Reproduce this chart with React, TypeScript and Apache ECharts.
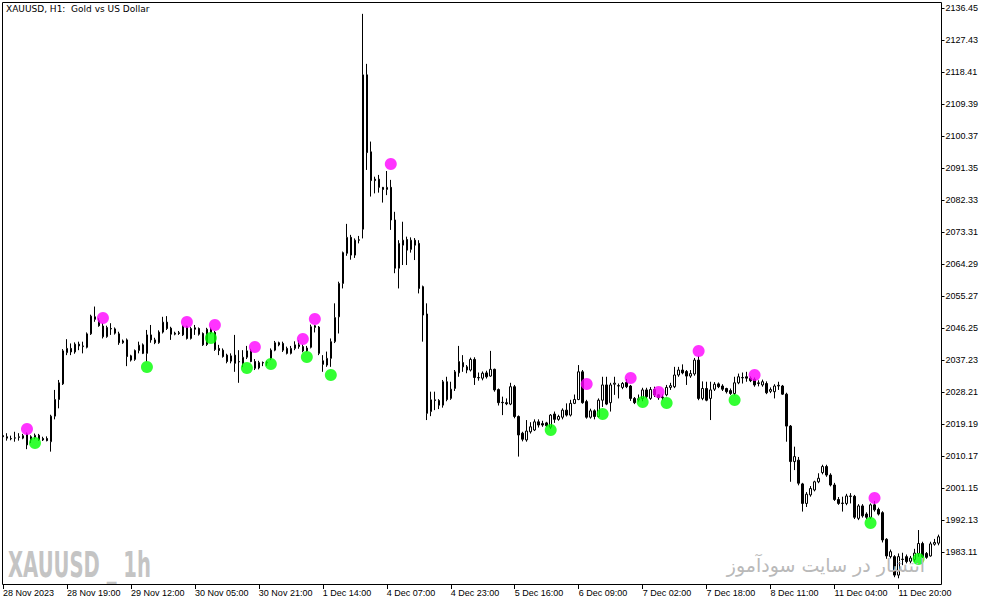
import { useEffect, useRef } from "react";
import * as echarts from "echarts";

// bar index of each time label, and its text
const xTickBars = [0, 16, 32, 48, 64, 80, 96, 112, 128, 144, 160, 176, 192, 208, 224];
const xTickLabels = [
  "28 Nov 2023", "28 Nov 19:00", "29 Nov 12:00", "30 Nov 05:00", "30 Nov 21:00",
  "1 Dec 14:00", "4 Dec 07:00", "4 Dec 23:00", "5 Dec 16:00", "6 Dec 09:00",
  "7 Dec 02:00", "7 Dec 18:00", "8 Dec 11:00", "11 Dec 04:00", "11 Dec 20:00",
];
const yTicks = [
  2136.45, 2127.43, 2118.41, 2109.39, 2100.37, 2091.35, 2082.33, 2073.31, 2064.29,
  2055.27, 2046.25, 2037.23, 2028.21, 2019.19, 2010.17, 2001.15, 1992.13, 1983.11,
];
const priceMin = 1974.09;
const priceMax = 2138.0;

// [open, close, low, high] per H1 bar
const ohlc: number[][] = [
  [2015.9, 2015.6, 2015.0, 2017.0], [2015.6, 2015.2, 2014.5, 2016.6], [2015.1, 2015.0, 2014.6, 2015.9],
  [2015.2, 2015.3, 2014.2, 2017.0], [2015.4, 2015.6, 2014.5, 2016.6], [2015.2, 2015.9, 2014.9, 2016.4],
  [2016.4, 2013.3, 2012.1, 2016.8], [2014.7, 2015.6, 2013.8, 2016.0], [2015.4, 2016.0, 2014.9, 2016.5],
  [2016.0, 2014.7, 2014.4, 2016.4], [2015.1, 2014.7, 2014.4, 2015.6], [2015.1, 2014.5, 2014.3, 2015.7],
  [2014.2, 2021.4, 2011.4, 2021.8], [2021.4, 2026.1, 2020.5, 2028.8], [2026.1, 2030.8, 2023.6, 2031.6],
  [2030.5, 2039.8, 2030.2, 2040.3], [2039.3, 2040.5, 2038.6, 2043.1], [2040.5, 2039.5, 2038.6, 2041.9],
  [2039.5, 2041.7, 2039.0, 2042.2], [2041.7, 2041.2, 2040.0, 2042.4], [2041.0, 2041.2, 2039.1, 2042.4],
  [2040.8, 2044.6, 2040.5, 2045.0], [2044.6, 2049.6, 2044.3, 2050.0], [2049.4, 2048.7, 2048.0, 2052.3],
  [2048.3, 2046.9, 2046.6, 2049.0], [2046.8, 2043.8, 2043.3, 2047.6], [2043.8, 2046.4, 2043.5, 2046.9],
  [2046.1, 2046.0, 2044.3, 2047.6], [2046.0, 2044.8, 2044.4, 2046.4], [2044.6, 2042.1, 2041.5, 2045.2],
  [2042.1, 2042.6, 2041.8, 2043.0], [2042.9, 2038.2, 2035.5, 2043.3], [2038.4, 2037.2, 2036.8, 2038.7],
  [2037.4, 2039.9, 2037.0, 2040.2], [2039.9, 2041.4, 2039.1, 2042.4], [2041.5, 2039.1, 2038.9, 2041.9],
  [2039.1, 2044.3, 2036.8, 2045.7], [2044.3, 2042.9, 2042.1, 2047.1], [2042.9, 2042.1, 2041.7, 2043.5],
  [2042.1, 2045.1, 2041.8, 2045.6], [2045.1, 2047.9, 2044.7, 2049.4], [2047.9, 2046.1, 2045.7, 2049.6],
  [2046.2, 2044.5, 2042.9, 2046.6], [2044.5, 2044.8, 2044.2, 2045.2], [2044.9, 2044.7, 2044.3, 2045.4],
  [2044.3, 2046.8, 2044.0, 2047.0], [2046.6, 2043.3, 2043.0, 2046.9], [2043.3, 2046.1, 2043.0, 2046.5],
  [2046.3, 2045.9, 2044.3, 2047.1], [2046.1, 2044.5, 2044.1, 2046.4], [2044.7, 2041.5, 2041.2, 2045.0],
  [2041.6, 2045.9, 2041.2, 2046.3], [2045.9, 2044.9, 2044.5, 2046.4], [2045.0, 2040.2, 2039.8, 2045.4],
  [2040.5, 2039.9, 2038.6, 2041.5], [2040.0, 2038.2, 2037.9, 2040.5], [2038.6, 2036.8, 2036.3, 2039.0],
  [2036.9, 2038.4, 2036.3, 2039.1], [2038.6, 2036.3, 2033.9, 2044.3], [2036.8, 2036.7, 2030.8, 2040.0],
  [2036.3, 2038.0, 2035.2, 2040.0], [2038.0, 2039.8, 2037.5, 2041.2], [2039.8, 2036.8, 2036.6, 2040.4],
  [2036.8, 2034.9, 2034.4, 2037.5], [2035.0, 2036.5, 2034.6, 2037.0], [2036.5, 2036.4, 2035.5, 2036.8],
  [2036.4, 2036.6, 2035.6, 2037.0], [2037.7, 2040.0, 2037.2, 2040.5], [2040.0, 2042.1, 2039.7, 2042.6],
  [2042.1, 2041.5, 2041.1, 2042.4], [2041.9, 2040.0, 2039.5, 2042.4], [2040.5, 2039.1, 2038.8, 2041.0],
  [2039.1, 2040.5, 2038.8, 2041.2], [2040.5, 2041.5, 2040.0, 2042.5], [2041.5, 2041.0, 2040.4, 2042.8],
  [2041.0, 2039.8, 2039.4, 2041.6], [2039.8, 2040.6, 2039.5, 2041.2], [2040.8, 2046.6, 2040.5, 2047.2],
  [2046.4, 2046.9, 2045.0, 2047.1], [2046.5, 2039.1, 2038.6, 2046.8], [2037.0, 2036.0, 2033.9, 2038.6],
  [2035.8, 2037.7, 2035.3, 2039.6], [2037.7, 2042.4, 2035.3, 2043.3], [2042.4, 2049.2, 2042.0, 2053.2],
  [2049.4, 2058.8, 2044.7, 2059.3], [2058.8, 2067.5, 2057.4, 2067.8], [2067.3, 2071.8, 2066.6, 2075.6],
  [2071.8, 2066.8, 2065.5, 2072.5], [2066.8, 2071.0, 2066.0, 2071.5], [2071.1, 2071.0, 2070.1, 2072.2],
  [2074.1, 2117.6, 2071.5, 2134.8], [2117.6, 2095.7, 2090.8, 2120.7], [2095.9, 2087.8, 2083.3, 2098.8],
  [2088.2, 2087.8, 2084.2, 2088.9], [2088.2, 2085.9, 2084.4, 2089.4], [2085.9, 2085.3, 2081.6, 2086.0],
  [2085.3, 2085.9, 2083.7, 2090.5], [2085.9, 2076.7, 2073.9, 2088.0], [2076.7, 2063.1, 2061.7, 2079.0],
  [2063.1, 2070.1, 2057.4, 2071.0], [2069.6, 2071.0, 2064.0, 2076.2], [2071.2, 2068.2, 2064.0, 2072.0],
  [2068.4, 2071.0, 2067.5, 2071.8], [2071.0, 2069.6, 2065.4, 2071.6], [2070.1, 2057.4, 2056.0, 2071.0],
  [2057.9, 2049.9, 2042.4, 2058.2], [2050.2, 2022.2, 2020.3, 2053.2], [2022.7, 2026.0, 2021.4, 2028.3],
  [2026.0, 2025.8, 2023.1, 2028.3], [2025.8, 2024.5, 2023.4, 2026.2], [2024.5, 2031.1, 2023.8, 2031.6],
  [2031.1, 2026.1, 2025.6, 2032.5], [2026.4, 2029.0, 2026.0, 2031.1], [2029.2, 2033.9, 2028.5, 2034.4],
  [2033.6, 2036.8, 2032.5, 2041.2], [2036.5, 2035.3, 2033.9, 2038.6], [2035.3, 2034.4, 2033.5, 2035.8],
  [2034.4, 2037.4, 2034.0, 2037.9], [2037.4, 2032.3, 2030.2, 2038.0], [2032.3, 2032.2, 2031.4, 2033.7],
  [2032.1, 2033.5, 2031.5, 2034.0], [2033.6, 2032.5, 2032.0, 2034.2], [2032.7, 2034.6, 2032.5, 2039.8],
  [2034.6, 2028.8, 2028.3, 2034.8], [2028.9, 2025.2, 2024.4, 2029.2], [2025.3, 2025.2, 2021.7, 2026.9],
  [2025.2, 2024.9, 2024.5, 2026.4], [2024.8, 2029.7, 2024.5, 2030.8], [2029.7, 2021.3, 2020.8, 2030.2],
  [2021.3, 2016.1, 2010.0, 2021.6], [2016.6, 2014.9, 2014.3, 2017.0], [2014.7, 2017.2, 2014.2, 2020.3],
  [2017.0, 2018.4, 2016.5, 2019.7], [2017.5, 2019.8, 2017.2, 2020.5], [2019.8, 2018.9, 2018.2, 2020.5],
  [2019.3, 2018.9, 2018.4, 2020.1], [2019.5, 2018.7, 2018.4, 2019.8], [2018.3, 2021.7, 2017.8, 2022.0],
  [2022.0, 2020.5, 2019.5, 2022.7], [2020.5, 2021.3, 2020.1, 2021.8], [2021.1, 2023.1, 2020.5, 2023.6],
  [2023.1, 2021.7, 2021.3, 2025.0], [2021.7, 2025.0, 2021.3, 2026.0], [2025.0, 2026.1, 2024.8, 2027.5],
  [2026.1, 2033.9, 2025.9, 2035.8], [2033.9, 2025.2, 2024.9, 2034.4], [2025.5, 2021.1, 2020.7, 2026.0],
  [2021.1, 2022.9, 2020.7, 2023.5], [2022.9, 2021.3, 2020.5, 2023.3], [2021.3, 2025.9, 2021.0, 2026.4],
  [2025.9, 2030.2, 2024.0, 2032.5], [2030.2, 2024.8, 2024.5, 2032.5], [2025.2, 2030.2, 2022.7, 2030.8],
  [2030.4, 2030.7, 2027.4, 2032.5], [2030.0, 2029.9, 2026.4, 2030.6], [2029.5, 2030.6, 2029.0, 2031.0],
  [2030.9, 2029.7, 2029.3, 2031.9], [2029.9, 2026.4, 2025.7, 2030.2], [2026.4, 2025.2, 2024.8, 2026.8],
  [2026.0, 2026.3, 2025.5, 2027.5], [2026.4, 2028.8, 2025.6, 2029.4], [2028.8, 2026.9, 2026.4, 2029.4],
  [2026.4, 2028.9, 2026.0, 2029.6], [2028.9, 2027.4, 2026.8, 2029.7], [2027.4, 2026.6, 2026.0, 2027.6],
  [2026.6, 2026.8, 2025.9, 2027.5], [2027.4, 2029.5, 2027.0, 2030.2], [2029.5, 2030.0, 2028.8, 2030.8],
  [2029.7, 2033.0, 2029.3, 2035.3], [2033.0, 2034.4, 2032.5, 2035.3], [2034.4, 2033.6, 2033.2, 2036.0],
  [2034.0, 2032.7, 2030.2, 2034.4], [2032.7, 2033.4, 2032.2, 2034.4], [2033.3, 2037.2, 2032.8, 2037.8],
  [2037.2, 2026.4, 2025.9, 2038.4], [2026.4, 2029.2, 2025.9, 2031.2], [2029.2, 2025.9, 2025.6, 2031.1],
  [2026.4, 2028.8, 2020.3, 2031.1], [2029.0, 2030.4, 2028.5, 2031.0], [2030.5, 2029.7, 2029.3, 2030.9],
  [2029.9, 2029.0, 2028.5, 2030.4], [2029.2, 2028.3, 2027.8, 2029.4], [2028.6, 2027.8, 2027.4, 2029.2],
  [2027.8, 2030.8, 2027.3, 2032.5], [2030.8, 2032.5, 2030.4, 2033.4], [2032.3, 2032.2, 2030.6, 2033.7],
  [2032.5, 2032.1, 2031.1, 2033.9], [2032.1, 2031.4, 2031.0, 2032.6], [2031.8, 2030.2, 2029.7, 2032.3],
  [2030.6, 2030.8, 2029.8, 2031.5], [2030.2, 2031.1, 2029.7, 2031.7], [2030.6, 2028.0, 2027.6, 2031.2],
  [2028.4, 2028.9, 2027.9, 2029.5], [2028.3, 2029.9, 2026.4, 2030.4], [2029.9, 2030.1, 2028.8, 2031.1],
  [2029.9, 2027.6, 2027.4, 2030.2], [2027.6, 2018.6, 2014.2, 2028.0], [2018.6, 2008.6, 2002.9, 2018.9],
  [2008.6, 2010.0, 2006.2, 2012.8], [2009.0, 2002.5, 2001.9, 2009.9], [2002.3, 1996.8, 1994.5, 2002.6],
  [1996.8, 1999.4, 1995.8, 2000.0], [1999.2, 2001.0, 1998.7, 2001.7], [2000.6, 2002.9, 2000.2, 2003.2],
  [2002.9, 2003.9, 2002.5, 2005.3], [2005.5, 2007.2, 2005.0, 2007.7], [2007.2, 2004.8, 2004.3, 2007.7],
  [2004.8, 2002.0, 2001.6, 2005.3], [2002.0, 1997.9, 1997.5, 2002.6], [1997.9, 1996.8, 1996.4, 1998.6],
  [1996.9, 1996.8, 1994.5, 1998.7], [1996.8, 1998.9, 1996.3, 1999.5], [1998.9, 1998.8, 1996.8, 1999.7],
  [1998.8, 1992.9, 1992.4, 1999.2], [1992.6, 1996.1, 1992.1, 1996.6], [1996.1, 1993.3, 1992.8, 1996.6],
  [1993.8, 1992.9, 1992.4, 1994.3], [1992.9, 1996.4, 1992.4, 1996.8], [1996.4, 1995.0, 1994.5, 1997.5],
  [1995.1, 1993.8, 1993.4, 1995.6], [1994.2, 1986.5, 1985.8, 1994.6], [1986.7, 1982.0, 1981.2, 1987.0],
  [1981.8, 1983.2, 1981.3, 1983.8], [1981.8, 1976.6, 1976.0, 1982.2], [1976.6, 1981.8, 1975.7, 1982.7],
  [1981.1, 1981.0, 1979.4, 1982.9], [1981.8, 1980.4, 1979.9, 1982.4], [1980.5, 1981.4, 1980.0, 1982.0],
  [1981.0, 1982.8, 1980.4, 1984.0], [1982.7, 1985.5, 1981.8, 1989.3], [1985.5, 1981.8, 1981.3, 1986.0],
  [1982.7, 1981.6, 1981.2, 1983.1], [1982.0, 1985.4, 1981.8, 1986.0], [1985.3, 1985.8, 1984.9, 1986.8],
  [1985.6, 1987.4, 1985.0, 1988.0],
];

// indicator dots: [bar index, price]
const sellSignals = [
  [6, 2017.78], [25, 2049.07], [46, 2047.94], [53, 2047.09], [63, 2040.89], [75, 2043.15],
  [78, 2048.78], [97, 2092.48], [146, 2030.46], [157, 2032.15], [164, 2028.21], [174, 2039.76],
  [188, 2033.0], [218, 1998.33],
];
const buySignals = [
  [8, 2013.83], [36, 2035.26], [52, 2043.43], [61, 2034.98], [67, 2036.1], [76, 2038.07],
  [82, 2033.0], [137, 2017.5], [150, 2022.01], [160, 2025.39], [166, 2025.11], [183, 2025.95],
  [217, 1991.28], [229, 1981.14],
];

const titleText = "XAUUSD, H1:  Gold vs US Dollar";
const watermarkLeft = "XAUUSD _ 1h";
const watermarkRight = "انتشار در سایت سودآموز";

export default function App() {
  const ref = useRef<HTMLDivElement>(null);
  useEffect(() => {
    if (!ref.current) return;
    const chart = echarts.init(ref.current, null, { renderer: "svg" });
    const cats = ohlc.map((_, i) => String(i));
    const labelAt = new Map<number, string>();
    xTickBars.forEach((b, k) => labelAt.set(b, xTickLabels[k]));
    const showAt = (i: number) => labelAt.has(i);
    const axisFont = "Liberation Sans";
    const titleFont = "DejaVu Sans";
    chart.setOption({
      animation: false,
      backgroundColor: "#ffffff",
      grid: { left: 0.5, top: 2.5, width: 940, height: 581.5, containLabel: false },
      xAxis: {
        type: "category",
        data: cats,
        boundaryGap: true,
        axisLine: { show: false },
        axisTick: { show: true, alignWithLabel: true, interval: (i: number) => showAt(i), length: 5, lineStyle: { color: "#000", width: 1 } },
        axisLabel: {
          interval: (i: number) => showAt(i),
          formatter: (_v: string, i: number) => labelAt.get(i) ?? "",
          align: "left",
          margin: 4,
          fontSize: 9,
          fontFamily: axisFont,
          color: "#000",
        },
        splitLine: { show: false },
      },
      yAxis: {
        type: "value",
        position: "right",
        min: priceMin,
        max: priceMax,
        offset: 1,
        axisLine: { show: false },
        axisTick: { show: true, customValues: yTicks, length: 3, lineStyle: { color: "#000", width: 1 } },
        axisLabel: {
          customValues: yTicks,
          formatter: (v: number) => v.toFixed(2),
          margin: 4,
          fontSize: 9,
          fontFamily: axisFont,
          color: "#000",
        },
        splitLine: { show: false },
      },
      graphic: [
        {
          type: "rect", z: 10, silent: true,
          shape: { x: 2.5, y: 2.5, width: 939, height: 582 },
          style: { fill: "none", stroke: "#000", lineWidth: 1 },
        },
        {
          type: "text", x: 6, y: 9, z: 10, silent: true,
          style: { text: titleText, fontSize: 9, fontFamily: titleFont, fill: "#000", verticalAlign: "middle", align: "left" },
        },
        {
          type: "text", x: 8, y: 565, z: 6, scaleX: 0.56, silent: true,
          style: { text: watermarkLeft, fontSize: 35, fontWeight: "bold", fontFamily: titleFont, fill: "#c4c4c4", verticalAlign: "middle", align: "left" },
        },
        {
          type: "text", x: 925, y: 565, z: 6, silent: true,
          style: { text: watermarkRight, fontSize: 19, fontFamily: titleFont, fill: "#b9b9b9", verticalAlign: "middle", align: "right" },
        },
      ],
      series: [
        {
          type: "candlestick",
          data: ohlc,
          barWidth: 2,
          z: 3,
          itemStyle: { color: "#ffffff", color0: "#000000", borderColor: "#000000", borderColor0: "#000000", borderWidth: 1 },
        },
        {
          type: "scatter", data: sellSignals, symbol: "circle", symbolSize: 12, z: 4,
          itemStyle: { color: "#ff00ff" },
        },
        {
          type: "scatter", data: buySignals, symbol: "circle", symbolSize: 12, z: 4,
          itemStyle: { color: "#00ff00" },
        },
      ],
    });
    return () => chart.dispose();
  }, []);
  return (
    <div
      ref={ref}
      style={{ position: "fixed", left: 0, top: 0, width: 994, height: 605, background: "#ffffff" }}
    />
  );
}
